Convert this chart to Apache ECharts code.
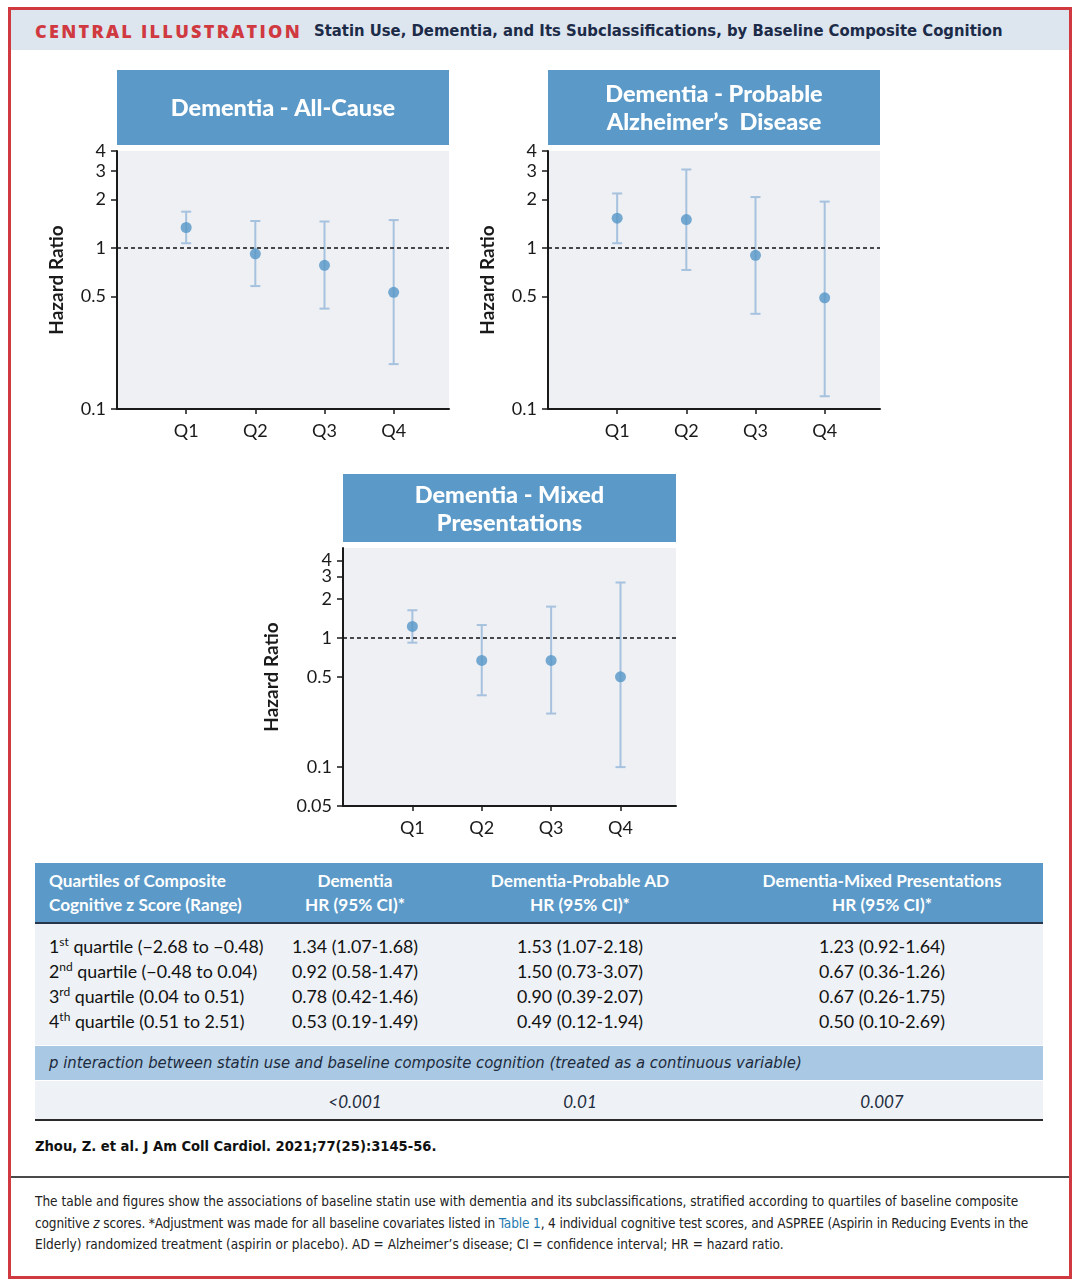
<!DOCTYPE html>
<html><head><meta charset="utf-8">
<script src="https://cdn.jsdelivr.net/npm/echarts@6/dist/echarts.min.js"></script>
<style>
body{margin:0;width:1080px;height:1287px;background:#fff;position:relative;overflow:hidden;font-family:'Lato','Open Sans',sans-serif;color:#111;}
.abs{position:absolute;white-space:nowrap;}
#chart{position:absolute;left:0;top:0;width:1080px;height:1287px;z-index:1;}
.hdrtxt{color:#fff;font-weight:bold;font-size:17.2px;line-height:24px;}
.row{font-size:17.8px;line-height:25px;color:#111;}
.c{transform:translateX(-50%);text-align:center;}
.it{font-style:italic;font-size:17px;}
.foot{font-family:'Liberation Sans Narrow','DejaVu Sans Condensed',sans-serif;font-size:13.5px;line-height:21.5px;color:#222;}
</style></head>
<body>
<div class="abs" style="left:8px;top:7px;width:1058px;height:1266px;border:3px solid #d0393f;"></div>
<div class="abs" style="left:11px;top:10px;width:1058px;height:40px;background:#dde5ef;"></div>
<div class="abs" style="left:35px;top:19px;font-family:'Open Sans';font-weight:800;font-size:18px;letter-spacing:2.3px;color:#d0393f;line-height:24px;">CENTRAL ILLUSTRATION</div>
<div class="abs" id="subtitle" style="left:314px;top:19px;font-family:'Liberation Sans Narrow','DejaVu Sans Condensed';font-weight:bold;font-size:16.5px;color:#1c2b47;line-height:24px;">Statin Use, Dementia, and Its Subclassifications, by Baseline Composite Cognition</div>

<div id="chart"></div>

<div id="table"></div>

<div class="abs foot" style="left:35px;top:1135px;font-weight:bold;font-size:14.6px;color:#111;">Zhou, Z. et al. J Am Coll Cardiol. 2021;77(25):3145-56.</div>
<div class="abs" style="left:11px;top:1176px;width:1058px;height:2px;background:#4a4a4a;"></div>
<div class="abs foot" style="left:35px;top:1191px;">The table and figures show the associations of baseline statin use with dementia and its subclassifications, stratified according to quartiles of baseline composite<br><span style="letter-spacing:-0.13px;">cognitive <i>z</i> scores. *Adjustment was made for all baseline covariates listed in <span style="color:#1f7bb0;">Table 1</span>, 4 individual cognitive test scores, and ASPREE (Aspirin in Reducing Events in the</span><br>Elderly) randomized treatment (aspirin or placebo). AD = Alzheimer’s disease; CI = confidence interval; HR = hazard ratio.</div>

<script>
// ---------- data ----------
const quartiles = ['Q1', 'Q2', 'Q3', 'Q4'];
const allCauseHR = [1.34, 0.92, 0.78, 0.53];
const allCauseLo = [1.07, 0.58, 0.42, 0.19];
const allCauseHi = [1.68, 1.47, 1.46, 1.49];
const probableADHR = [1.53, 1.50, 0.90, 0.49];
const probableADLo = [1.07, 0.73, 0.39, 0.12];
const probableADHi = [2.18, 3.07, 2.07, 1.94];
const mixedHR = [1.23, 0.67, 0.67, 0.50];
const mixedLo = [0.92, 0.36, 0.26, 0.10];
const mixedHi = [1.64, 1.26, 1.75, 2.69];
const yTicksTop = [0.1, 0.5, 1, 2, 3, 4];
const yTicksMixed = [0.05, 0.1, 0.5, 1, 2, 3, 4];
const panelTitles = ['Dementia - All-Cause', 'Dementia - Probable\nAlzheimer\u2019s  Disease', 'Dementia - Mixed\nPresentations'];
const quartileOrd = ['1', '2', '3', '4'];
const quartileSuffix = ['st', 'nd', 'rd', 'th'];
const quartileRanges = ['(\u22122.68 to \u22120.48)', '(\u22120.48 to 0.04)', '(0.04 to 0.51)', '(0.51 to 2.51)'];
const tableHeaders = [['Quartiles of Composite', 'Cognitive z Score (Range)'], ['Dementia', 'HR (95% CI)*'], ['Dementia-Probable AD', 'HR (95% CI)*'], ['Dementia-Mixed Presentations', 'HR (95% CI)*']];
const pInteractionLabel = 'p interaction between statin use and baseline composite cognition (treated as a continuous variable)';
const pValues = ['<0.001', '0.01', '0.007'];

// ---------- table (HTML) ----------
const colX = [49, 355, 580, 882];
let h = '';
h += '<div class="abs" style="left:35px;top:863px;width:1008px;height:60px;background:#5b9ac8;"></div>';
h += '<div class="abs" style="left:35px;top:922px;width:1008px;height:2px;background:#27364a;"></div>';
h += '<div class="abs" style="left:35px;top:924px;width:1008px;height:121px;background:#eef1f5;"></div>';
h += '<div class="abs" style="left:35px;top:1046px;width:1008px;height:34px;background:#a9c8e3;"></div>';
h += '<div class="abs" style="left:35px;top:1081px;width:1008px;height:38px;background:#eef1f5;"></div>';
h += '<div class="abs" style="left:35px;top:1119px;width:1008px;height:2px;background:#2a2a2a;"></div>';
tableHeaders.forEach((hd, i) => {
  const cls = i === 0 ? '' : ' c';
  h += `<div class="abs hdrtxt${cls}" style="left:${colX[i]}px;top:869px;${i===0?'text-align:left;':''}">${hd[0]}<br>${hd[1]}</div>`;
});
const fmt2 = v => v.toFixed(2);
const series3 = [[allCauseHR, allCauseLo, allCauseHi], [probableADHR, probableADLo, probableADHi], [mixedHR, mixedLo, mixedHi]];
for (let r = 0; r < 4; r++) {
  const top = 934 + r * 25;
  h += `<div class="abs row" style="left:${colX[0]}px;top:${top}px;">${quartileOrd[r]}<sup style="font-size:12px;line-height:0;">${quartileSuffix[r]}</sup> quartile ${quartileRanges[r]}</div>`;
  series3.forEach((s, k) => {
    h += `<div class="abs row c" style="left:${colX[k+1]}px;top:${top}px;">${fmt2(s[0][r])} (${fmt2(s[1][r])}-${fmt2(s[2][r])})</div>`;
  });
}
h += `<div class="abs it" style="left:49px;top:1051px;line-height:24px;font-size:16.5px;color:#1d2b3c;font-family:'Liberation Sans Narrow','DejaVu Sans Condensed';">${pInteractionLabel.replace(/&/g,'&amp;')}</div>`;
pValues.forEach((p, k) => {
  h += `<div class="abs it c" style="left:${colX[k+1]}px;top:1090px;line-height:24px;color:#1d2b3c;">${p.replace('<','&lt;')}</div>`;
});
document.getElementById('table').innerHTML = h;

// ---------- charts ----------
const L = Math.log10;
const fmtTick = v => String(parseFloat(Math.pow(10, v).toPrecision(2)));
const axisColor = '#1a1a1a';
const panels = [
  {grid: {left: 117, top: 151, width: 332, height: 258}, ticks: yTicksTop, min: L(0.1), max: L(4), d: series3[0]},
  {grid: {left: 548, top: 151, width: 332, height: 258}, ticks: yTicksTop, min: L(0.1), max: L(4), d: series3[1]},
  {grid: {left: 343, top: 548, width: 333, height: 258}, ticks: yTicksMixed, min: L(0.05), max: 0.697, d: series3[2]}
];
const boxes = [
  {x: 117, y: 70, w: 332, h: 75},
  {x: 548, y: 70, w: 332, h: 75},
  {x: 343, y: 474, w: 333, h: 68}
];
const grids = [], xAxes = [], yAxes = [], series = [], graphics = [];
panels.forEach((p, i) => {
  grids.push(Object.assign({show: true, backgroundColor: '#eef0f4', borderWidth: 0, containLabel: false}, p.grid));
  xAxes.push({
    gridIndex: i, type: 'value', min: 0, max: 4.8,
    axisLine: {show: true, onZero: false, lineStyle: {color: axisColor, width: 2}},
    axisTick: {show: true, customValues: [1, 2, 3, 4], length: 5, lineStyle: {color: axisColor, width: 1.5}},
    axisLabel: {customValues: [1, 2, 3, 4], formatter: v => quartiles[Math.round(v) - 1], fontSize: 18, color: axisColor, margin: 13, fontFamily: 'Lato', hideOverlap: false},
    splitLine: {show: false}
  });
  // ticks are split over two coincident y axes (alternating) so that close labels (3 and 4) are not dropped
  const tvA = p.ticks.filter((_, k) => k % 2 === 0).map(L);
  const tvB = p.ticks.filter((_, k) => k % 2 === 1).map(L);
  const mkY = (tv, withName) => {
    const ax = {
      gridIndex: i, type: 'value', min: p.min, max: p.max, position: 'left',
      axisLine: {show: withName, onZero: false, lineStyle: {color: axisColor, width: 2}},
      axisTick: {show: true, customValues: tv, length: 6, lineStyle: {color: axisColor, width: 1.5}},
      axisLabel: {customValues: tv, formatter: fmtTick, fontSize: 18, color: axisColor, margin: 11, fontFamily: 'Lato', hideOverlap: false, showMinLabel: true, showMaxLabel: true},
      splitLine: {show: false}
    };
    if (withName) {
      Object.assign(ax, {name: 'Hazard Ratio', nameLocation: 'middle', nameRotate: 90, nameGap: i === 2 ? 62 : 51,
        nameTextStyle: {fontWeight: 'bold', fontSize: 19, color: axisColor, fontFamily: 'Lato'}});
    }
    return ax;
  };
  yAxes.push(mkY(tvA, true));
  yAxes.push(mkY(tvB, false));
  const yi = i * 2;
  const [hr, lo, hi] = p.d;
  series.push({
    type: 'custom', xAxisIndex: i, yAxisIndex: yi, z: 3,
    data: hr.map((_, k) => [k + 1, L(lo[k]), L(hi[k])]),
    renderItem: function (params, api) {
      const a = api.coord([api.value(0), api.value(1)]);
      const b = api.coord([api.value(0), api.value(2)]);
      const w = 5;
      const style = {stroke: '#a6c2de', lineWidth: 2, fill: null};
      return {type: 'group', children: [
        {type: 'line', shape: {x1: a[0], y1: a[1], x2: b[0], y2: b[1]}, style},
        {type: 'line', shape: {x1: a[0] - w, y1: a[1], x2: a[0] + w, y2: a[1]}, style},
        {type: 'line', shape: {x1: b[0] - w, y1: b[1], x2: b[0] + w, y2: b[1]}, style}
      ]};
    }
  });
  series.push({
    type: 'scatter', xAxisIndex: i, yAxisIndex: yi, z: 5,
    symbolSize: 11, itemStyle: {color: '#5596c7'},
    data: hr.map((v, k) => [k + 1, L(v)]),
    markLine: {silent: true, symbol: 'none', label: {show: false}, z: 4,
      lineStyle: {color: '#111', type: [4, 3], width: 1.6},
      data: [{yAxis: 0}]}
  });
  const bx = boxes[i];
  graphics.push({type: 'rect', shape: {x: bx.x, y: bx.y, width: bx.w, height: bx.h}, style: {fill: '#5b9ac8'}});
  graphics.push({type: 'text', x: bx.x + bx.w / 2, y: bx.y + bx.h / 2 + 1,
    style: {text: panelTitles[i], fill: '#fff', font: '900 23.5px Lato', align: 'center', verticalAlign: 'middle', lineHeight: 28}});
});

const chart = echarts.init(document.getElementById('chart'), null, {renderer: 'canvas'});
chart.setOption({
  animation: false,
  backgroundColor: 'transparent',
  grid: grids, xAxis: xAxes, yAxis: yAxes, series: series, graphic: graphics
});
</script>
</body></html>
